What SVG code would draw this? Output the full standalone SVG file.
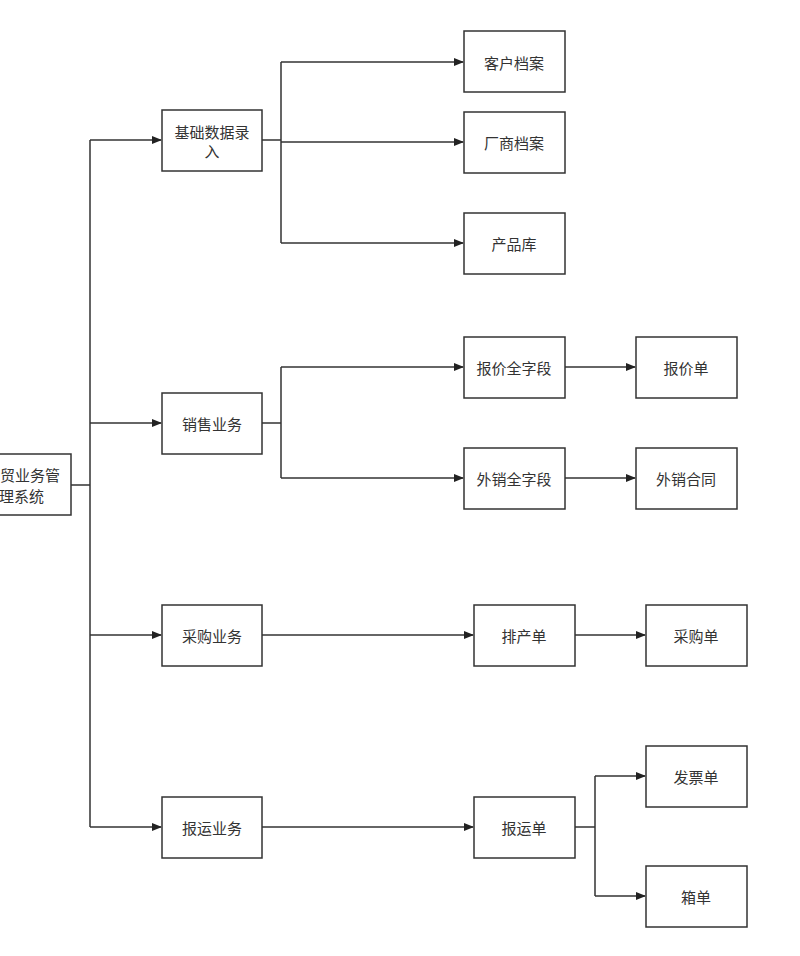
<svg xmlns="http://www.w3.org/2000/svg" width="800" height="956" viewBox="0 0 800 956">
<style>
rect{fill:#fff;stroke:#333;stroke-width:1.5}
text{font-family:"Noto Sans CJK SC",sans-serif;font-size:15px;fill:#333;text-anchor:middle;dominant-baseline:central}
.c path{fill:none;stroke:#333;stroke-width:1.5}
</style>
<defs><marker id="a" markerWidth="10" markerHeight="8" refX="9" refY="4" orient="auto" markerUnits="userSpaceOnUse"><path d="M0,0L10,4L0,8z" fill="#222"/></marker></defs>
<rect x="0" y="0" width="800" height="956" style="stroke:none"/>
<g class="c">
<path d="M71,485H90M90,140V827"/>
<path d="M90,140H161" marker-end="url(#a)"/>
<path d="M90,423H161" marker-end="url(#a)"/>
<path d="M90,635H161" marker-end="url(#a)"/>
<path d="M90,827H161" marker-end="url(#a)"/>
<path d="M262,140H281M281,62V243"/>
<path d="M281,62H463" marker-end="url(#a)"/>
<path d="M281,142H463" marker-end="url(#a)"/>
<path d="M281,243H463" marker-end="url(#a)"/>
<path d="M262,423H281M281,367V478"/>
<path d="M281,367H463" marker-end="url(#a)"/>
<path d="M281,478H463" marker-end="url(#a)"/>
<path d="M565,367H635" marker-end="url(#a)"/>
<path d="M565,478H635" marker-end="url(#a)"/>
<path d="M262,635H473" marker-end="url(#a)"/>
<path d="M575,635H645" marker-end="url(#a)"/>
<path d="M262,827H473" marker-end="url(#a)"/>
<path d="M575,827H595M595,776V896"/>
<path d="M595,776H645" marker-end="url(#a)"/>
<path d="M595,896H645" marker-end="url(#a)"/>
</g>
<g id="root"><rect x="-30" y="454" width="101" height="61"/><text x="0" y="474" style="text-anchor:start">贸业务管</text><text x="-1" y="495" style="text-anchor:start">理系统</text></g>
<g id="n1"><rect x="162" y="110" width="100" height="61"/><text x="212" y="131">基础数据录</text><text x="212" y="150">入</text></g>
<g id="n2"><rect x="162" y="393" width="100" height="61"/><text x="212" y="423">销售业务</text></g>
<g id="n3"><rect x="162" y="605" width="100" height="61"/><text x="212" y="635">采购业务</text></g>
<g id="n4"><rect x="162" y="797" width="100" height="61"/><text x="212" y="827">报运业务</text></g>
<g id="n5"><rect x="464" y="31" width="101" height="61"/><text x="514" y="62">客户档案</text></g>
<g id="n6"><rect x="464" y="112" width="101" height="61"/><text x="514" y="142">厂商档案</text></g>
<g id="n7"><rect x="464" y="213" width="101" height="61"/><text x="514" y="243">产品库</text></g>
<g id="n8"><rect x="464" y="337" width="101" height="61"/><text x="514" y="367">报价全字段</text></g>
<g id="n9"><rect x="464" y="448" width="101" height="61"/><text x="514" y="478">外销全字段</text></g>
<g id="n10"><rect x="636" y="337" width="101" height="61"/><text x="686" y="367">报价单</text></g>
<g id="n11"><rect x="636" y="448" width="101" height="61"/><text x="686" y="478">外销合同</text></g>
<g id="n12"><rect x="474" y="605" width="101" height="61"/><text x="524" y="635">排产单</text></g>
<g id="n13"><rect x="646" y="605" width="101" height="61"/><text x="696" y="635">采购单</text></g>
<g id="n14"><rect x="474" y="797" width="101" height="61"/><text x="524" y="827">报运单</text></g>
<g id="n15"><rect x="646" y="746" width="101" height="61"/><text x="696" y="776">发票单</text></g>
<g id="n16"><rect x="646" y="866" width="101" height="61"/><text x="696" y="896">箱单</text></g>
</svg>
